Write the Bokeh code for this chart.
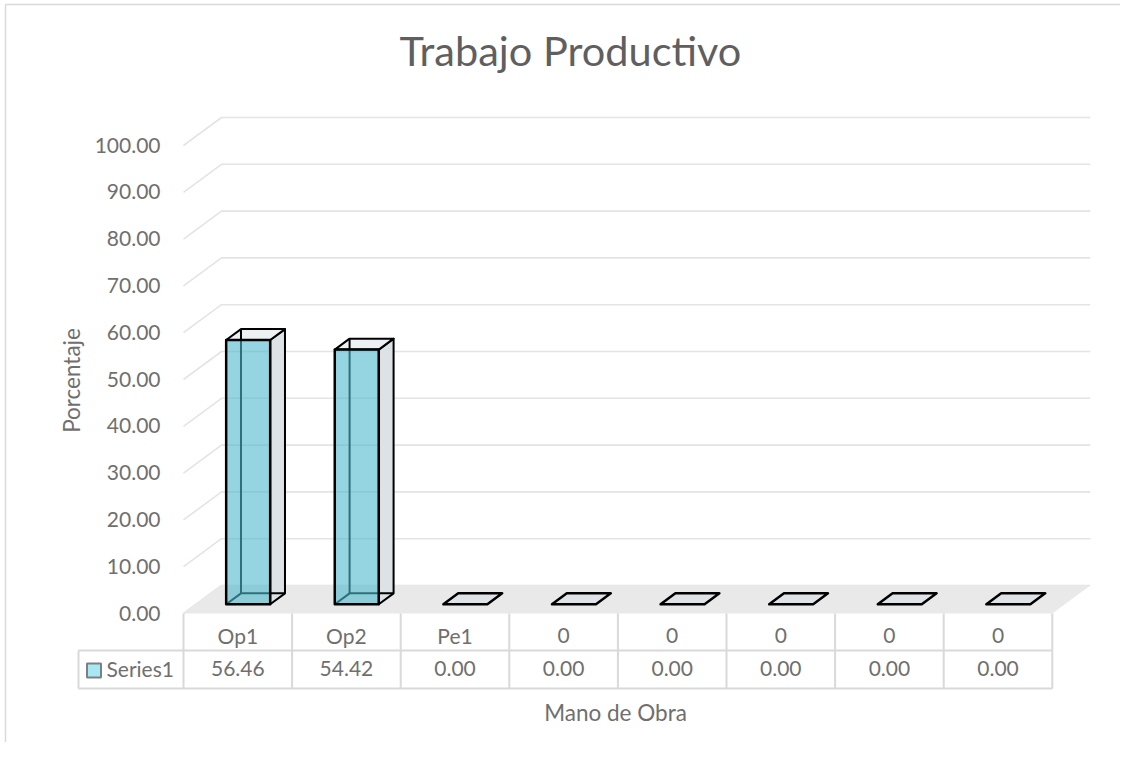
import math
from bokeh.plotting import figure
from bokeh.models import Range1d
from bokeh.core.properties import value
from bokeh.embed import file_html
from bokeh.resources import INLINE

# ---------------- data ----------------
categories = ["Op1", "Op2", "Pe1", "0", "0", "0", "0", "0"]
values = [56.46, 54.42, 0.00, 0.00, 0.00, 0.00, 0.00, 0.00]
y_ticks = [0, 10, 20, 30, 40, 50, 60, 70, 80, 90, 100]
series_name = "Series1"
title_text = "Trabajo Productivo"
x_title = "Mano de Obra"
y_title = "Porcentaje"

# ---------------- layout ----------------
W, H = 1120, 742
X0, Y0 = 183, 613            # px of category 0 / value 0 on the front plane
PXU, PXV = 108.6, 4.68       # px per category, px per value unit


def ux(X):
    return (X - X0) / PXU


def vy(Y):
    return (Y0 - Y) / PXV


DU, DV = 38 / PXU, 28 / PXV  # full depth of the floor/walls
F0, F1 = 0.33, 0.72          # bar depth span (fraction of full depth)
BW = 44 / PXU                # bar width (category units)
NCAT = len(categories)

FONT = value("Lato")
TXT = "#5f5f5f"
TXT2 = "#6f6f6f"
GRID = "#e4e4e4"
TABLE = "#d9d9d9"

p = figure(width=W, height=H, x_range=Range1d(ux(0), ux(W)),
           y_range=Range1d(vy(H), vy(0)),
           x_axis_location=None, y_axis_location=None,
           toolbar_location=None, output_backend="svg", min_border=0)
p.xgrid.visible = False
p.ygrid.visible = False
p.outline_line_color = None
p.background_fill_color = "white"
p.border_fill_color = "white"

# chart border (left/top)
p.segment(x0=[ux(5), ux(5)], y0=[vy(H), vy(4)],
          x1=[ux(5), ux(W)], y1=[vy(4), vy(4)],
          line_color=TABLE, line_width=1.5)

# ---------------- walls: gridlines ----------------
gx, gy = [], []
for t in y_ticks:
    gx.append([0, DU, NCAT + DU])
    gy.append([t, t + DV, t + DV])
p.multi_line(xs=gx, ys=gy, line_color=GRID, line_width=1.6)

# floor
p.patch(x=[0, NCAT, NCAT + DU, DU], y=[0, 0, DV, DV],
        fill_color="#e9e9e9", line_color=None)

# ---------------- bars ----------------
bdx, bdy = DU * (F1 - F0), DV * (F1 - F0)
side_x, side_y, top_x, top_y, front_x, front_y = [], [], [], [], [], []
hid_x, hid_y, flat_x, flat_y = [], [], [], []
for i, v in enumerate(values):
    c = i + 0.5 - 0.02
    xl = c - BW / 2 + DU * F0
    xr = xl + BW
    yb = DV * F0
    yt = yb + v
    if v > 0:
        side_x.append([xr, xr + bdx, xr + bdx, xr])
        side_y.append([yb, yb + bdy, yt + bdy, yt])
        top_x.append([xl, xr, xr + bdx, xl + bdx])
        top_y.append([yt, yt, yt + bdy, yt + bdy])
        front_x.append([xl, xr, xr, xl])
        front_y.append([yb, yb, yt, yt])
        hid_x.append([xl, xl + bdx, xr + bdx])
        hid_y.append([yb, yb + bdy, yb + bdy])
        hid_x.append([xl + bdx, xl + bdx])
        hid_y.append([yb + bdy, yt + bdy])
    else:
        flat_x.append([xl, xr, xr + bdx, xl + bdx])
        flat_y.append([yb, yb, yb + bdy, yb + bdy])

p.patches(xs=side_x, ys=side_y, fill_color="#dde2e6", line_color="black",
          line_width=2, line_join="round")
p.patches(xs=top_x, ys=top_y, fill_color="#edf1f4", line_color="black",
          line_width=2, line_join="round")
p.multi_line(xs=hid_x, ys=hid_y, line_color="black", line_width=2)
p.patches(xs=front_x, ys=front_y, fill_color="#4eb9cf", fill_alpha=0.6,
          line_color="black", line_width=2.5, line_join="round")
p.patches(xs=flat_x, ys=flat_y, fill_color="#dfe3e7", line_color="black",
          line_width=2.5, line_join="round")

# ---------------- value axis labels ----------------
p.text(x=[ux(160)] * len(y_ticks), y=[t + 0.5 / PXV for t in y_ticks],
       text=[f"{t:.2f}" for t in y_ticks], text_align="right",
       text_baseline="alphabetic", text_font=FONT, text_font_size="21px",
       text_color=TXT2)

# ---------------- data table ----------------
tx0, ty0, tx1, ty1 = [], [], [], []
for i in range(NCAT + 1):
    tx0.append(i); ty0.append(vy(613)); tx1.append(i); ty1.append(vy(688))
for Y in (650, 688):
    tx0.append(ux(78)); ty0.append(vy(Y)); tx1.append(NCAT); ty1.append(vy(Y))
tx0.append(ux(78)); ty0.append(vy(650)); tx1.append(ux(78)); ty1.append(vy(688))
p.segment(x0=tx0, y0=ty0, x1=tx1, y1=ty1, line_color=TABLE, line_width=2)

centers = [i + 0.5 for i in range(NCAT)]
p.text(x=centers, y=[vy(635)] * NCAT, text=categories, text_align="center",
       text_baseline="alphabetic", text_font=FONT, text_font_size="21px",
       text_color=TXT2)
p.text(x=centers, y=[vy(667.5)] * NCAT, text=[f"{v:.2f}" for v in values],
       text_align="center", text_baseline="alphabetic", text_font=FONT,
       text_font_size="21px", text_color=TXT2)

# legend key + series name
p.rect(x=[ux(93.5)], y=[vy(670)], width=14 / PXU, height=14 / PXV,
       fill_color="#a6e8f4", line_color="#7f7f7f", line_width=2)
p.text(x=[ux(106)], y=[vy(667.5)], text=[series_name], text_align="left",
       text_baseline="alphabetic", text_font=FONT, text_font_size="21px",
       text_color=TXT2)

# ---------------- titles ----------------
p.text(x=[ux(570)], y=[vy(49)], text=[title_text], text_align="center",
       text_baseline="alphabetic", text_font=FONT, text_font_size="41.5px",
       text_color=TXT)
p.text(x=[ux(615)], y=[vy(711.5)], text=[x_title], text_align="center",
       text_baseline="alphabetic", text_font=FONT, text_font_size="22.5px",
       text_color=TXT2)
p.text(x=[ux(71)], y=[vy(380)], text=[y_title], angle=math.pi / 2,
       text_align="center", text_baseline="alphabetic", text_font=FONT,
       text_font_size="22.5px", text_color=TXT2)

open("out.html", "w").write(file_html(p, INLINE))
